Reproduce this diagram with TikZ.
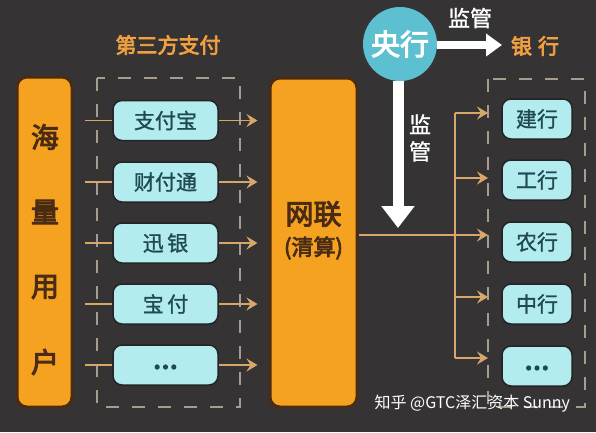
\documentclass[tikz,border=0pt]{standalone}
\usepackage{fontspec}
\newfontfamily\cjk{Noto Sans CJK SC}
\newfontfamily\cjkm{Noto Sans CJK SC}[FakeBold=1.2]
\newfontfamily\cjkb{Noto Sans CJK SC}[FakeBold=3.5]
\usetikzlibrary{arrows.meta,calc}
\definecolor{bgc}{HTML}{353333}
\definecolor{orng}{HTML}{F5A220}
\definecolor{brn}{HTML}{4A2C14}
\definecolor{tealbox}{HTML}{B3ECEE}
\definecolor{tealtxt}{HTML}{1F4A52}
\definecolor{circ}{HTML}{5CC0D0}
\definecolor{tan}{HTML}{D6A66A}
\definecolor{dash}{HTML}{A89C8C}
\definecolor{ttl}{HTML}{F0A040}
\tikzset{
  orangebox/.style={fill=orng, draw=brn, line width=3pt, rounded corners=10pt},
  bigtxt/.style={text=brn, font=\cjkb\fontsize{28}{30}\selectfont},
  midtxt/.style={text=brn, font=\cjkb\fontsize{22}{24}\selectfont},
  tealnode/.style={fill=tealbox, draw=bgc!70!black, line width=1.5pt, rounded corners=9pt, text=tealtxt, font=\cjkm\fontsize{21}{23}\selectfont, minimum height=40pt},
  lbox/.style={tealnode, minimum width=105pt},
  rbox/.style={tealnode, minimum width=70pt},
  dotstxt/.style={font=\cjkb\fontsize{30}{32}\selectfont, yshift=-2pt},
  dashbox/.style={draw=dash, line width=1.2pt, dash pattern=on 13pt off 13pt},
  tanline/.style={draw=tan, line width=1.8pt},
  tanarrow/.style={tanline, -{Stealth[length=11pt,width=13pt,inset=4pt]}},
  whitetxt/.style={text=white, font=\cjkm\fontsize{22}{27}\selectfont},
  titletxt/.style={text=ttl, font=\cjkb\fontsize{21}{23}\selectfont},
}
\begin{document}
\begin{tikzpicture}[x=1pt,y=-1pt]
\fill[bgc] (0,0) rectangle (596,432);
\useasboundingbox (0,0) rectangle (596,432);

% dashed frames
\draw[dashbox] (97,78) rectangle (240,407);
\draw[dashbox] (488,79) rectangle (585,407);

% users box
\node[orangebox, minimum width=55pt, minimum height=330pt] (users) at (44.5,242) {};
\node[bigtxt] (u1) at (45,137) {海};
\node[bigtxt] (u2) at (45,212) {量};
\node[bigtxt] (u3) at (45,287) {用};
\node[bigtxt] (u4) at (45,362) {户};

% netunion box
\node[orangebox, minimum width=87pt, minimum height=329pt] (wl) at (313.5,242.5) {};
\node[bigtxt] (wl1) at (313.5,214) {网联};
\node[midtxt] (wl2) at (313.5,248) {(清算)};

% title
\node[titletxt] (title) at (168,45) {第三方支付};

% left teal boxes
\node[lbox] (p1) at (165.5,120.5) {支付宝};
\node[lbox] (p2) at (165.5,182) {财付通};
\node[lbox] (p3) at (165.5,243) {迅\,银};
\node[lbox] (p4) at (165.5,304) {宝\,付};
\node[lbox] (p5) at (165.5,365) {};
\node[dotstxt, text=tealtxt] (p5d) at (p5) {...};

% left arrows
\foreach \i in {1,...,5} {
  \coordinate (s\i) at ($(users.east |- p\i)+(11,0)$);
  \draw[tanline] (s\i) -- (p\i.west);
  \draw[tanarrow] (p\i.east) -- ($(wl.west |- p\i)+(-11,0)$);
}

% central bank
\node[circle, fill=circ, minimum size=74pt, inner sep=0pt, text=white, font=\cjkb\fontsize{29}{31}\selectfont] (cb) at (400,44) {央行};
\coordinate (vtip) at (398,228);
\draw[white, line width=11pt, -{Triangle[width=32pt,length=22pt]}] (cb.south -| vtip) -- (vtip);
\coordinate (htip) at (502,45);
\draw[white, line width=8pt, -{Triangle[width=22pt,length=16pt]}] (cb.east |- htip) -- (htip);
\node[whitetxt] (sup1) at (470,18) {监管};
\node[titletxt] (bank) at (535,46) {银\hspace{6pt}行};
\node[whitetxt, align=center] (sup2) at (420,138) {监\\管};

% right teal boxes
\node[rbox] (b1) at (537,119) {建行};
\node[rbox] (b2) at (537,180) {工行};
\node[rbox] (b3) at (537,242) {农行};
\node[rbox] (b4) at (537,304) {中行};
\node[rbox] (b5) at (537,366) {};
\node[dotstxt, text=tealtxt] (b5d) at (b5) {...};

% distribution lines
\coordinate (hub) at (455,235);
\coordinate (r1) at (455,113);
\coordinate (r2) at (455,178);
\coordinate (r4) at (455,297);
\coordinate (r5) at (455,358);
\draw[tanline] (r1) -- (r5);
\draw[tanarrow] (wl.east |- hub) -- (488,235);
\foreach \i in {1,2,4,5} {
  \draw[tanarrow] (r\i) -- ($(r\i)+(33,0)$);
}

% watermark
\node[text=white, font=\cjk\fontsize{16}{18}\selectfont, anchor=west] (wm) at (371,404) {知乎 @GTC泽汇资本 Sunny};
\end{tikzpicture}
\end{document}
